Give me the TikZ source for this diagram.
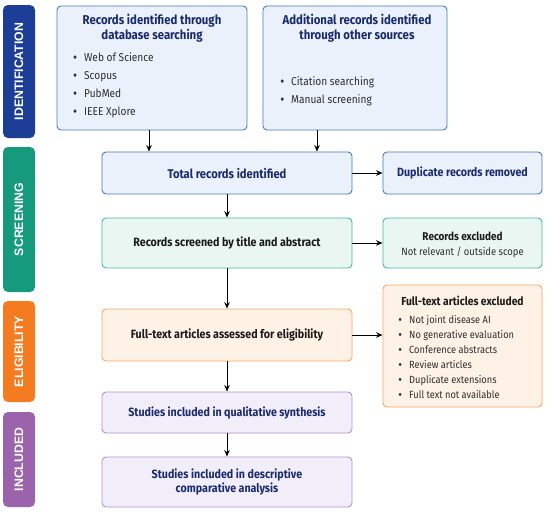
\documentclass[tikz,border=0pt]{standalone}
\usepackage{fontspec}
\setmainfont{Fira Sans}[FakeStretch=0.89]
\newfontfamily\barfont{Liberation Sans}
\usetikzlibrary{arrows.meta}
\definecolor{cid}{HTML}{1C3E96}
\definecolor{cscr}{HTML}{169A7D}
\definecolor{celi}{HTML}{F47B20}
\definecolor{cinc}{HTML}{9A63AB}
\definecolor{bfill}{HTML}{EAF1FB}
\definecolor{bbord}{HTML}{4A78B8}
\definecolor{gfill}{HTML}{E9F6F1}
\definecolor{gbord}{HTML}{45BB96}
\definecolor{ofill}{HTML}{FEF2E6}
\definecolor{obord}{HTML}{F5A760}
\definecolor{pfill}{HTML}{F2EEF9}
\definecolor{pbord}{HTML}{B391CC}
\definecolor{navy}{HTML}{1A2B6D}
\definecolor{darktxt}{HTML}{1A1A1A}
\definecolor{itemgray}{HTML}{2E2E2E}
\newcommand\fsz[2]{\fontsize{#1}{#2}\selectfont}
\newcommand\bul{\makebox[10.7pt][l]{\bfseries\textbullet}}
\begin{document}
\begin{tikzpicture}[x=1pt,y=-1pt,
  box/.style={draw, rounded corners=4pt, line width=0.9pt, inner sep=0pt},
  bluebox/.style={box, draw=bbord, fill=bfill},
  greenbox/.style={box, draw=gbord, fill=gfill},
  orangebox/.style={box, draw=obord, fill=ofill},
  purplebox/.style={box, draw=pbord, fill=pfill},
  bar/.style={rounded corners=5pt, minimum height=32pt, inner sep=0pt, rotate=90, text=white, font=\barfont\bfseries\fsz{12.3}{12}},
  navytitle/.style={text=navy, align=center, inner sep=0pt},
  darktitle/.style={text=darktxt, align=center, inner sep=0pt},
  itemtxt/.style={anchor=base west, inner sep=0pt, text=itemgray},
  arr/.style={-{Stealth[length=6.5pt,width=5.5pt]}, line width=1pt, black}]
\fill[white] (0,0) rectangle (550,517);
\useasboundingbox (0,0) rectangle (550,517);

% phase bars
\node[bar, fill=cid, minimum width=133pt] (barid) at (19,71.5) {IDENTIFICATION};
\node[bar, fill=cscr, minimum width=145pt] (barscr) at (19,219.5) {SCREENING};
\node[bar, fill=celi, minimum width=101pt] (barel) at (19,351.5) {ELIGIBILITY};
\node[bar, fill=cinc, minimum width=95pt] (barinc) at (19,459.5) {INCLUDED};

% identification boxes
\node[bluebox, minimum width=190pt, minimum height=124pt] (b1) at (152,68) {};
\node[navytitle, font=\bfseries\fsz{12.8}{15}] (b1t) at (152,28.5) {Records identified through\\database searching};
\node[itemtxt, font=\fsz{11.4}{14}] (b1i1) at (73.3,61) {\bul Web of Science};
\node[itemtxt, font=\fsz{11.4}{14}] (b1i2) at (73.3,79) {\bul Scopus};
\node[itemtxt, font=\fsz{11.4}{14}] (b1i3) at (73.3,97) {\bul PubMed};
\node[itemtxt, font=\fsz{11.4}{14}] (b1i4) at (73.3,115) {\bul IEEE Xplore};

\node[bluebox, minimum width=184pt, minimum height=124pt] (b2) at (355,68) {};
\node[navytitle, font=\bfseries\fsz{12.8}{15}] (b2t) at (357,28.5) {Additional records identified\\through other sources};
\node[itemtxt, font=\fsz{11.4}{14}] (b2i1) at (280.3,85) {\bul Citation searching};
\node[itemtxt, font=\fsz{11.4}{14}] (b2i2) at (280.3,103) {\bul Manual screening};

% screening
\node[bluebox, minimum width=250pt, minimum height=42pt, navytitle, font=\bfseries\fsz{12.6}{14}] (tot) at (227,173) {Total records identified};
\node[bluebox, minimum width=159pt, minimum height=42pt, navytitle, font=\bfseries\fsz{12}{14}] (dup) at (462.5,173) {Duplicate records removed};
\node[greenbox, minimum width=250pt, minimum height=50pt, darktitle, font=\bfseries\fsz{12}{14}] (scr) at (227,243) {Records screened by title and abstract};
\node[greenbox, minimum width=159pt, minimum height=50pt] (rex) at (462.5,243) {};
\node[darktitle, font=\bfseries\fsz{11.2}{13}] (rext) at (462.5,236) {Records excluded};
\node[darktitle, text=itemgray, font=\fsz{10.6}{13}] (rexs) at (462.5,252) {Not relevant / outside scope};

% eligibility
\node[orangebox, minimum width=250pt, minimum height=52pt, darktitle, font=\bfseries\fsz{12}{14}] (fta) at (227,335) {Full-text articles assessed for eligibility};
\node[orangebox, minimum width=159pt, minimum height=122pt] (fte) at (462.5,346) {};
\node[darktitle, font=\bfseries\fsz{11.6}{13}] (ftet) at (462.5,301) {Full-text articles excluded};
\node[itemtxt, font=\fsz{10.4}{13}] (fi1) at (398.3,323) {\bul Not joint disease AI};
\node[itemtxt, font=\fsz{10.4}{13}] (fi2) at (398.3,338) {\bul No generative evaluation};
\node[itemtxt, font=\fsz{10.4}{13}] (fi3) at (398.3,353) {\bul Conference abstracts};
\node[itemtxt, font=\fsz{10.4}{13}] (fi4) at (398.3,368) {\bul Review articles};
\node[itemtxt, font=\fsz{10.4}{13}] (fi5) at (398.3,383) {\bul Duplicate extensions};
\node[itemtxt, font=\fsz{10.4}{13}] (fi6) at (398.3,398) {\bul Full text not available};

% included
\node[purplebox, minimum width=250pt, minimum height=41pt, navytitle, font=\bfseries\fsz{12}{14}] (qual) at (227,412.5) {Studies included in qualitative synthesis};
\node[purplebox, minimum width=250pt, minimum height=50pt, navytitle, font=\bfseries\fsz{12}{14}] (desc) at (227,482) {Studies included in descriptive\\comparative analysis};

% connectors
\draw[arr] ([xshift=-3pt]b1.south) -- ([xshift=-3pt]b1.south |- tot.north);
\draw[arr] ([xshift=-38pt]b2.south) -- ([xshift=-38pt]b2.south |- tot.north);
\draw[arr] (tot) -- (dup);
\draw[arr] (tot) -- (scr);
\draw[arr] (scr) -- (rex);
\draw[arr] (scr) -- (fta);
\draw[arr] (fta.east) -- (fta.east -| fte.west);
\draw[arr] (fta) -- (qual);
\draw[arr] (qual) -- (desc);
\end{tikzpicture}
\end{document}
